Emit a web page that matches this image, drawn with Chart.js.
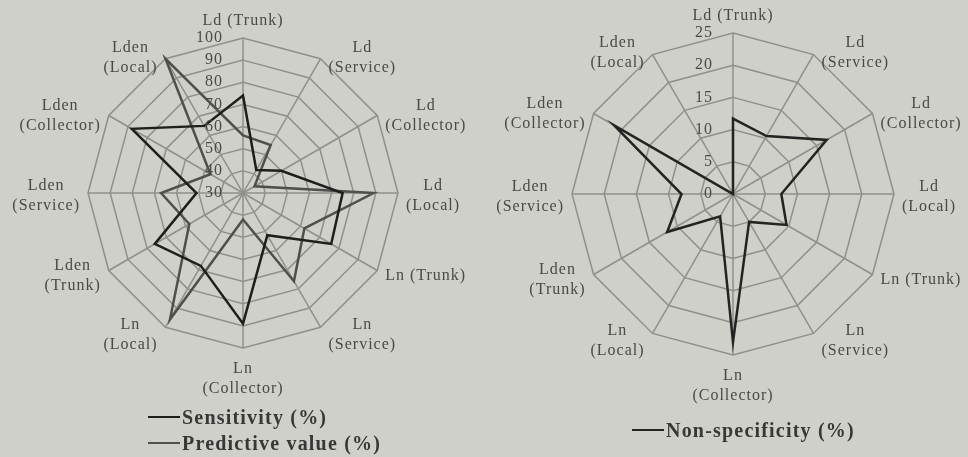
<!DOCTYPE html>
<html>
<head>
<meta charset="utf-8">
<script src="https://cdn.jsdelivr.net/npm/chart.js@4.4.0/dist/chart.umd.min.js"></script>
<style>
  body { margin: 0; width: 968px; height: 457px; overflow: hidden; position: relative;
         background: #cfd0ca; font-family: "Liberation Serif", serif; }
  .panel { position: absolute; top: 0; }
  .legend { position: absolute; font-weight: bold; font-size: 20px; letter-spacing: 1.2px; color: #383836; }
  .legend .row { display: flex; align-items: center; height: 26px; white-space: nowrap; }
  .legend .swatch { display: inline-block; width: 32px; border-top: 2.5px solid; margin-right: 2px; }
</style>
</head>
<body>
<div class="panel" style="left:0"><canvas id="leftRadar" width="486" height="457"></canvas></div>
<div class="panel" style="left:486px"><canvas id="rightRadar" width="482" height="457"></canvas></div>
<div class="legend" id="leftLegend" style="left:148px; top:404px"></div>
<div class="legend" id="rightLegend" style="left:632px; top:417px"></div>

<script>
// axes, clockwise from the top
const axisLabels = [
  ['Ld (Trunk)'], ['Ld', '(Service)'], ['Ld', '(Collector)'], ['Ld', '(Local)'],
  ['Ln (Trunk)'], ['Ln', '(Service)'], ['Ln', '(Collector)'], ['Ln', '(Local)'],
  ['Lden', '(Trunk)'], ['Lden', '(Service)'], ['Lden', '(Collector)'], ['Lden', '(Local)']
];

const sensitivity     = [74, 42, 50, 75, 76, 52, 89, 68, 76, 51, 88, 65];
const predictiveValue = [56, 55, 36, 89, 62, 76, 42, 96, 58, 67, 47, 100];
const nonSpecificity  = [11.7, 10.4, 16.8, 7.5, 9.6, 5, 23, 4, 11.8, 8, 21.3, 0];

const leftTicks  = [30, 40, 50, 60, 70, 80, 90, 100];
const rightTicks = [0, 5, 10, 15, 20, 25];

const gridColor = '#8f908b';
const textColor = '#4a4a46';

// tick numbers left of the vertical axis + centred axis names around the web
const radarText = {
  id: 'radarText',
  afterDraw(chart) {
    const scale = chart.scales.r;
    const ctx = chart.ctx;
    ctx.save();
    ctx.fillStyle = textColor;
    ctx.font = '16px "Liberation Serif"';
    ctx.letterSpacing = '1px';

    ctx.textAlign = 'right';
    ctx.textBaseline = 'middle';
    scale.ticks.forEach(t => {
      const d = scale.getDistanceFromCenterForValue(t.value);
      ctx.fillText(t.label, scale.xCenter - 20, scale.yCenter - d);
    });

    ctx.textAlign = 'center';
    const R = scale.drawingArea;
    const lh = 20;
    chart.data.labels.forEach((lab, i) => {
      const lines = [].concat(lab);
      const p = scale.getPointPosition(i, R);
      const a = scale.getIndexAngle(i);
      const s = Math.sin(a), c = Math.cos(a);
      const w = Math.max(...lines.map(l => ctx.measureText(l).width));
      const h = lines.length * lh;
      let cx = p.x;
      let cy = p.y - c * 5 + 3;
      if (s > 0.1) cx = p.x + 8 + w / 2;
      else if (s < -0.1) cx = p.x - 8 - w / 2;
      if (c > 0.9) cy = p.y - 7 - h / 2;
      else if (c < -0.9) cy = p.y + 11 + h / 2;
      lines.forEach((l, k) => ctx.fillText(l, cx, cy - h / 2 + lh * (k + 0.5)));
    });
    ctx.restore();
  }
};

function radarOptions(ticks, padding) {
  return {
    responsive: false,
    animation: false,
    devicePixelRatio: 1,
    layout: { padding: padding },
    plugins: { legend: { display: false }, tooltip: { enabled: false } },
    elements: { point: { radius: 0 }, line: { tension: 0, borderJoinStyle: 'miter' } },
    scales: {
      r: {
        min: ticks[0],
        max: ticks[ticks.length - 1],
        ticks: { stepSize: ticks[1] - ticks[0], display: false },
        grid: { color: gridColor, lineWidth: 1.5 },
        angleLines: { color: gridColor, lineWidth: 1.5 },
        pointLabels: { display: false }
      }
    }
  };
}

const leftChart = new Chart(document.getElementById('leftRadar'), {
  type: 'radar',
  data: {
    labels: axisLabels,
    datasets: [
      { label: 'Sensitivity (%)', data: sensitivity, borderColor: '#1e1e1d', borderWidth: 2.5, fill: false },
      { label: 'Predictive value (%)', data: predictiveValue, borderColor: '#4f504d', borderWidth: 2.5, fill: false }
    ]
  },
  options: radarOptions(leftTicks, { left: 88, right: 88, top: 38, bottom: 109 }),
  plugins: [radarText]
});

const rightChart = new Chart(document.getElementById('rightRadar'), {
  type: 'radar',
  data: {
    labels: axisLabels,
    datasets: [
      { label: 'Non-specificity (%)', data: nonSpecificity, borderColor: '#232322', borderWidth: 2.5, fill: false }
    ]
  },
  options: radarOptions(rightTicks, { left: 86, right: 74, top: 33, bottom: 102 }),
  plugins: [radarText]
});

// legends built from the datasets
function buildLegend(chart, id) {
  const box = document.getElementById(id);
  chart.data.datasets.forEach(ds => {
    const row = document.createElement('div');
    row.className = 'row';
    const sw = document.createElement('span');
    sw.className = 'swatch';
    sw.style.borderColor = ds.borderColor;
    row.appendChild(sw);
    row.appendChild(document.createTextNode(ds.label));
    box.appendChild(row);
  });
}
buildLegend(leftChart, 'leftLegend');
buildLegend(rightChart, 'rightLegend');
</script>
</body>
</html>
